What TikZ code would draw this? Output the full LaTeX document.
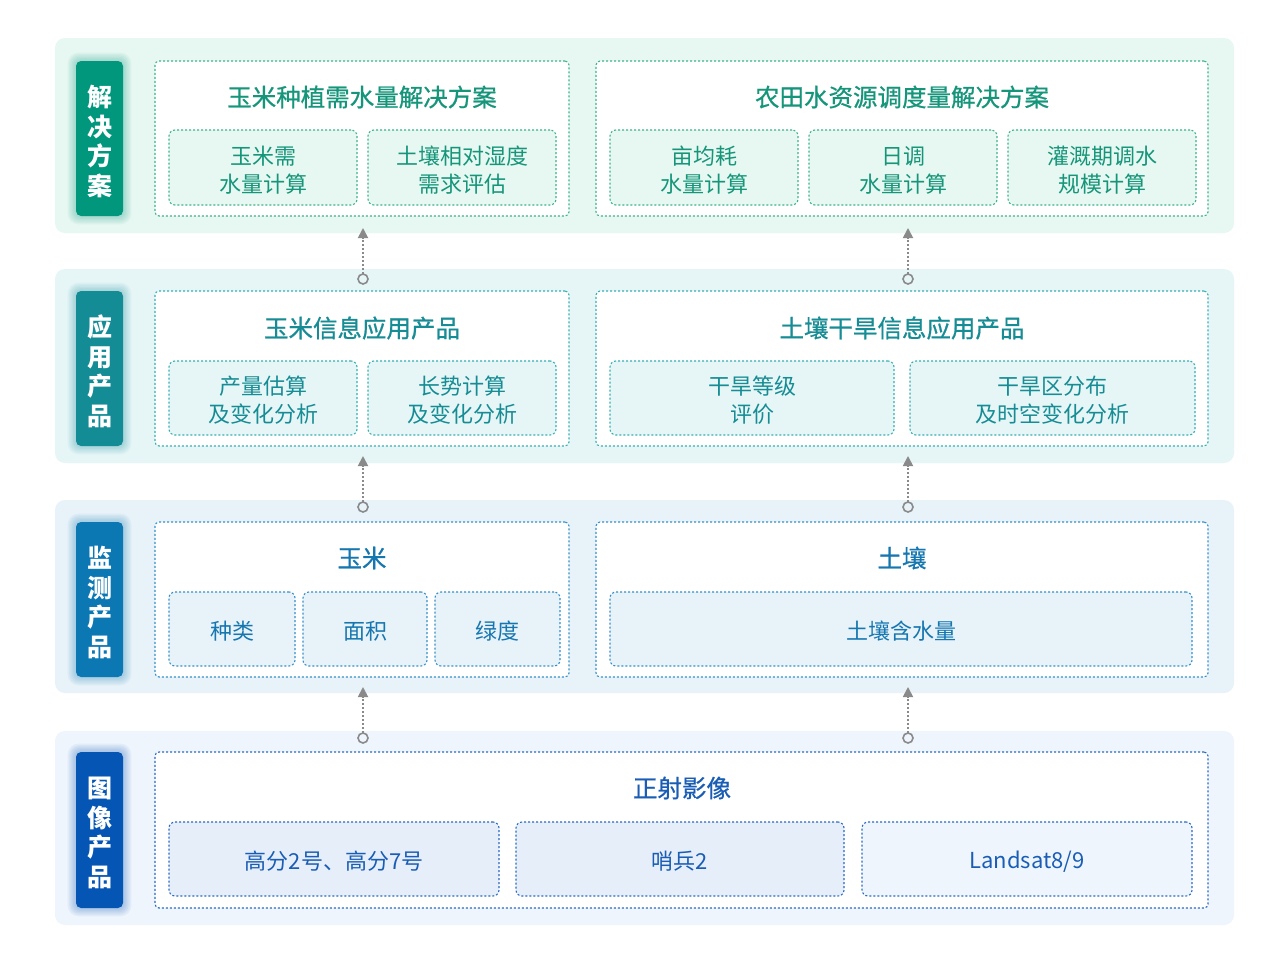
\documentclass[tikz,border=0pt]{standalone}
\usepackage{fontspec}
\setmainfont{Noto Sans CJK SC}
\newfontfamily\medfont{Noto Sans CJK SC}[FakeBold=0.7]
\usetikzlibrary{arrows.meta}
\definecolor{bgA}{HTML}{E7F7F1}
\definecolor{labA}{HTML}{00977D}
\definecolor{dashA}{HTML}{3DB489}
\definecolor{txtA}{HTML}{15967A}
\definecolor{bgB}{HTML}{E6F6F7}
\definecolor{labB}{HTML}{138C96}
\definecolor{dashB}{HTML}{36AEB2}
\definecolor{txtB}{HTML}{168C94}
\definecolor{bgC}{HTML}{E8F2F9}
\definecolor{labC}{HTML}{0B78B4}
\definecolor{dashC}{HTML}{3690C8}
\definecolor{txtC}{HTML}{1677B0}
\definecolor{bgD}{HTML}{EEF5FD}
\definecolor{labD}{HTML}{0556B4}
\definecolor{dashD}{HTML}{2A6AC2}
\definecolor{txtD}{HTML}{1A5DB5}
\definecolor{subD}{HTML}{E6EEF9}
\definecolor{conngray}{HTML}{8A8A8A}
\tikzset{
  band/.style={rounded corners=10pt},
  labbox/.style={rounded corners=5pt, minimum width=47pt, minimum height=155pt, inner sep=0pt, outer sep=0pt},
  labtxt/.style={inner sep=0pt, text=white, font=\fontsize{25}{29.5}\selectfont\bfseries, align=center},
  outerbox/.style={draw=#1, line width=1.1pt, dash pattern=on 2pt off 2pt, rounded corners=4pt, fill=white, inner sep=0pt, outer sep=0pt},
  subbox/.style={draw=#1, line width=1.1pt, dash pattern=on 2pt off 2pt, rounded corners=6pt, inner sep=0pt, outer sep=0pt},
  subtxt/.style={align=center, inner sep=0pt, font=\fontsize{22}{28}\selectfont},
  ttl/.style={font=\fontsize{24.5}{28}\selectfont\medfont, inner sep=0pt},
  dot/.style={circle, draw=conngray, line width=1.6pt, minimum size=10pt, inner sep=0pt, outer sep=0pt},
  conn/.style={draw=conngray, line width=1.8pt, dash pattern=on 2pt off 2pt, -{Triangle[width=10pt,length=10pt]}, conngray},
}
\newcommand{\glowbox}[5]{%
  \foreach \k in {1,...,6}{\fill[#1, opacity=0.05, rounded corners=5pt+\k pt] (#2-\k*1.4,#3-\k*1.4) rectangle (#4+\k*1.4,#5+\k*1.4);}}
% \sbx{name}{dash}{fill}{text}{x}{y}{w}{h}{content}
\newcommand{\sbx}[9]{%
  \node[subbox=#2, fill=#3, minimum width=#7pt, minimum height=#8pt] (#1) at (#5,#6) {};
  \node[subtxt, text=#4] (#1t) at ([yshift=-2.5pt]#1.center) {#9};}
\begin{document}
\begin{tikzpicture}[x=1pt,y=-1pt]
\useasboundingbox (0,0) rectangle (1280,964);
\fill[white] (0,0) rectangle (1280,964);
% ---------------- band A
\fill[bgA, band] (55,38) rectangle (1234,233);
\glowbox{labA}{76}{61}{123}{216}
\node[labbox, fill=labA] (LA) at (99.5,138.5) {};
\node[labtxt] (LAt) at ([yshift=-3pt]LA.center) {解\\决\\方\\案};
\node[outerbox=dashA, minimum width=414pt, minimum height=155pt] (OA1) at (362,138.5) {};
\node[outerbox=dashA, minimum width=612pt, minimum height=155pt] (OA2) at (902,138.5) {};
\node[ttl, text=txtA] (TA1) at (362,97) {玉米种植需水量解决方案};
\node[ttl, text=txtA] (TA2) at (902,97) {农田水资源调度量解决方案};
\sbx{SA1}{dashA}{bgA}{txtA}{263}{167.5}{188}{75}{玉米需\\水量计算}
\sbx{SA2}{dashA}{bgA}{txtA}{462}{167.5}{188}{75}{土壤相对湿度\\需求评估}
\sbx{SA3}{dashA}{bgA}{txtA}{704}{167.5}{188}{75}{亩均耗\\水量计算}
\sbx{SA4}{dashA}{bgA}{txtA}{903}{167.5}{188}{75}{日调\\水量计算}
\sbx{SA5}{dashA}{bgA}{txtA}{1102}{167.5}{188}{75}{灌溉期调水\\规模计算}
% ---------------- band B
\fill[bgB, band] (55,269) rectangle (1234,463);
\glowbox{labB}{76}{291}{123}{446}
\node[labbox, fill=labB] (LB) at (99.5,368.5) {};
\node[labtxt] (LBt) at ([yshift=-3pt]LB.center) {应\\用\\产\\品};
\node[outerbox=dashB, minimum width=414pt, minimum height=155pt] (OB1) at (362,368.5) {};
\node[outerbox=dashB, minimum width=612pt, minimum height=155pt] (OB2) at (902,368.5) {};
\node[ttl, text=txtB] (TB1) at (362,328) {玉米信息应用产品};
\node[ttl, text=txtB] (TB2) at (902,328) {土壤干旱信息应用产品};
\sbx{SB1}{dashB}{bgB}{txtB}{263}{398}{188}{74}{产量估算\\及变化分析}
\sbx{SB2}{dashB}{bgB}{txtB}{462}{398}{188}{74}{长势计算\\及变化分析}
\sbx{SB3}{dashB}{bgB}{txtB}{752}{398}{284}{74}{干旱等级\\评价}
\sbx{SB4}{dashB}{bgB}{txtB}{1052.5}{398}{285}{74}{干旱区分布\\及时空变化分析}
% ---------------- band C
\fill[bgC, band] (55,500) rectangle (1234,693);
\glowbox{labC}{76}{522}{123}{677}
\node[labbox, fill=labC] (LC) at (99.5,599.5) {};
\node[labtxt] (LCt) at ([yshift=-3pt]LC.center) {监\\测\\产\\品};
\node[outerbox=dashC, minimum width=414pt, minimum height=155pt] (OC1) at (362,599.5) {};
\node[outerbox=dashC, minimum width=612pt, minimum height=155pt] (OC2) at (902,599.5) {};
\node[ttl, text=txtC] (TC1) at (362,558) {玉米};
\node[ttl, text=txtC] (TC2) at (902,558) {土壤};
\sbx{SC1}{dashC}{bgC}{txtC}{232}{629}{126}{74}{种类}
\sbx{SC2}{dashC}{bgC}{txtC}{365}{629}{124}{74}{面积}
\sbx{SC3}{dashC}{bgC}{txtC}{497.5}{629}{125}{74}{绿度}
\sbx{SC4}{dashC}{bgC}{txtC}{901}{629}{582}{74}{土壤含水量}
% ---------------- band D
\fill[bgD, band] (55,731) rectangle (1234,925);
\glowbox{labD}{76}{752}{123}{908}
\node[labbox, fill=labD, minimum height=156pt] (LD) at (99.5,830) {};
\node[labtxt] (LDt) at ([yshift=-3pt]LD.center) {图\\像\\产\\品};
\node[outerbox=dashD, minimum width=1053pt, minimum height=156pt] (OD1) at (681.5,830) {};
\node[ttl, text=txtD] (TD1) at (682,788) {正射影像};
\sbx{SD1}{dashD}{subD}{txtD}{334}{859}{330}{74}{高分2号、高分7号}
\sbx{SD2}{dashD}{subD}{txtD}{680}{859}{328}{74}{哨兵2}
\sbx{SD3}{dashD}{bgD}{txtD}{1027}{859}{330}{74}{Landsat8/9}
% ---------------- connectors
\node[dot] (cA1) at (363,279) {};
\node[dot] (cA2) at (908,279) {};
\node[dot] (cB1) at (363,507) {};
\node[dot] (cB2) at (908,507) {};
\node[dot] (cC1) at (363,738) {};
\node[dot] (cC2) at (908,738) {};
\coordinate (tA1) at (363,228);
\coordinate (tA2) at (908,228);
\coordinate (tB1) at (363,456);
\coordinate (tB2) at (908,456);
\coordinate (tC1) at (363,687);
\coordinate (tC2) at (908,687);
\draw[conn] (cA1) -- (tA1);
\draw[conn] (cA2) -- (tA2);
\draw[conn] (cB1) -- (tB1);
\draw[conn] (cB2) -- (tB2);
\draw[conn] (cC1) -- (tC1);
\draw[conn] (cC2) -- (tC2);
\end{tikzpicture}
\end{document}
